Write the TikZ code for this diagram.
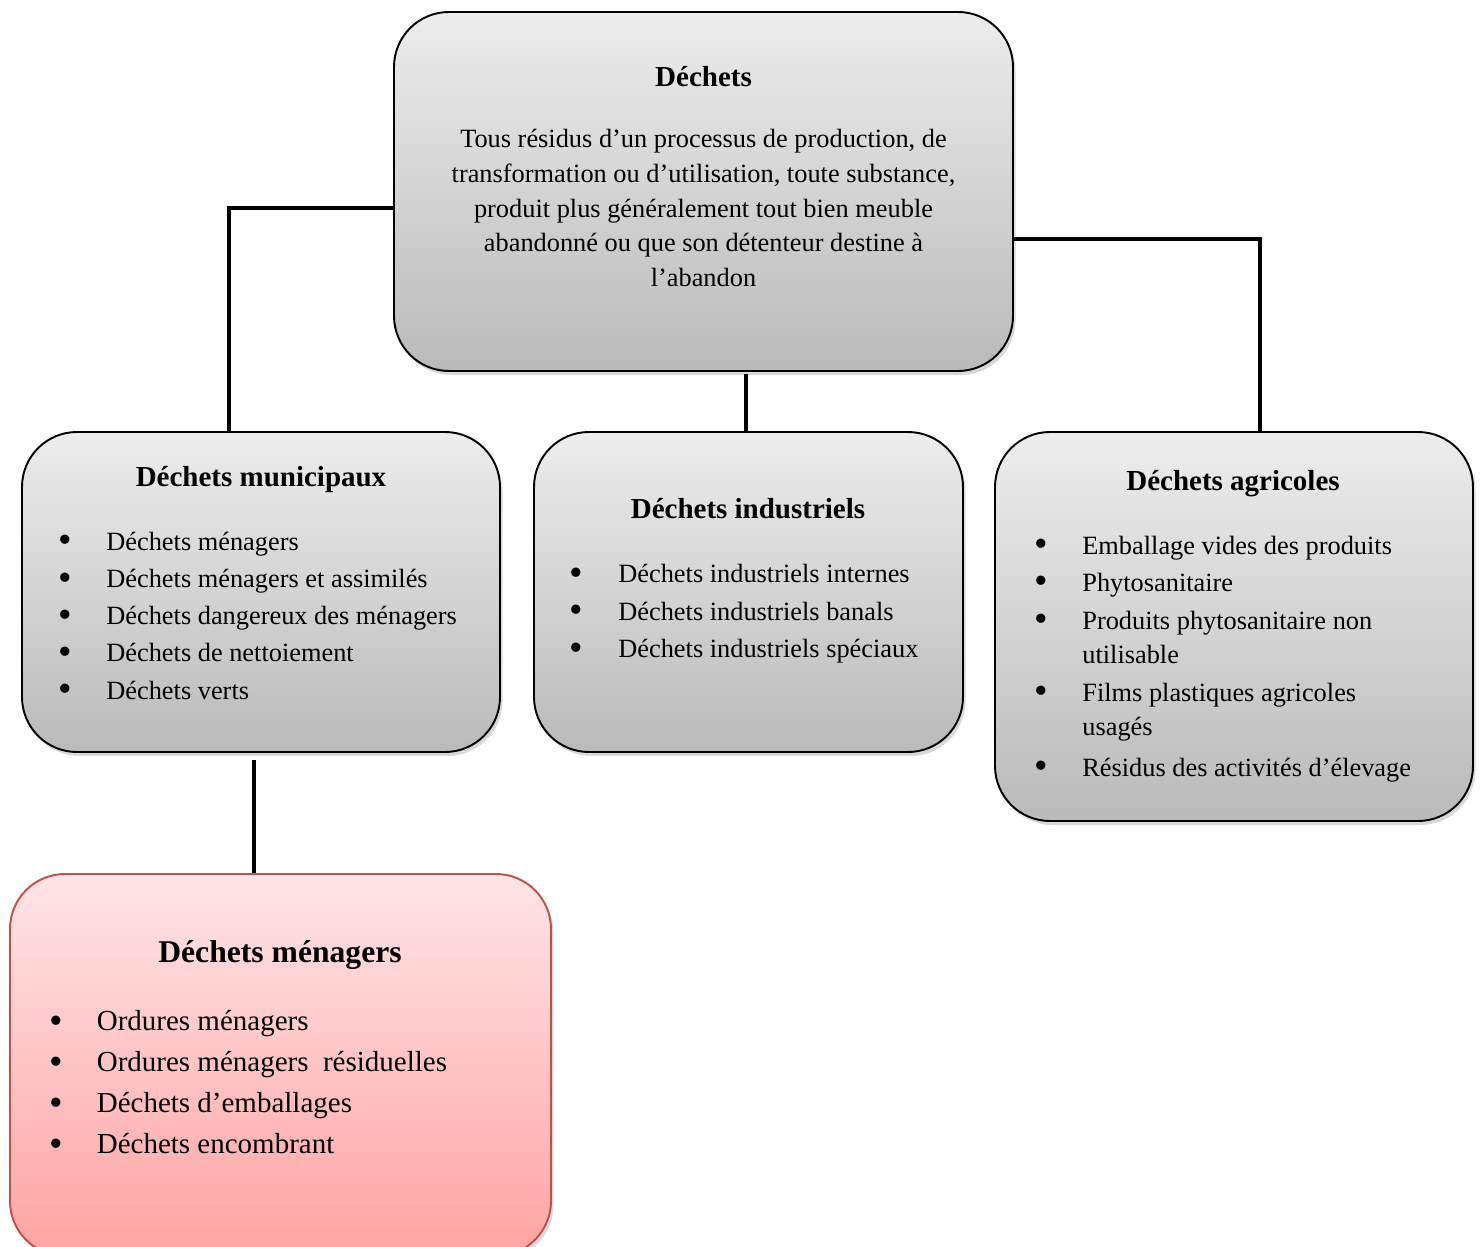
\documentclass[tikz,border=0pt]{standalone}
\usepackage{fontspec}
\setmainfont{Liberation Serif}
\usetikzlibrary{shadows,positioning}
\definecolor{grisHaut}{RGB}{237,237,237}
\definecolor{grisBas}{RGB}{186,186,186}
\definecolor{roseHaut}{RGB}{255,229,231}
\definecolor{roseBas}{RGB}{255,163,163}
\definecolor{rougeBord}{RGB}{192,80,77}
% puce + texte (largeur de la colonne puce, texte)
\newcommand{\pucetexte}[2]{\makebox[#1][l]{\raisebox{-1.6pt}{\fontsize{22}{22}\selectfont\textbullet}}\parbox[t]{8cm}{#2}}
\begin{document}
\begin{tikzpicture}[
  boite/.style={draw=black, line width=1.1pt, rounded corners=1.1cm, inner sep=0pt,
    top color=grisHaut, bottom color=grisBas,
    drop shadow={opacity=0.3, shadow xshift=0.05cm, shadow yshift=-0.08cm}},
  boiterose/.style={boite, draw=rougeBord, top color=roseHaut, bottom color=roseBas},
  titre/.style={font=\fontsize{16.5}{20}\selectfont\bfseries, anchor=base, inner sep=0pt},
  puce/.style={font=\fontsize{15}{19.8}\selectfont, anchor=base west, inner sep=0pt},
  lien/.style={line width=2.3pt, line join=miter}]
%
\useasboundingbox (0,0) rectangle (29.64,-24.94);
%
% boites
\node[boite, minimum width=12.38cm, minimum height=7.18cm] (haut) at (14.07,-3.83) {};
\node[boite, minimum width=9.56cm, minimum height=6.4cm] (muni) at (5.22,-11.84) {};
\node[boite, minimum width=8.58cm, minimum height=6.4cm] (indu) at (14.97,-11.84) {};
\node[boite, minimum width=9.56cm, minimum height=7.78cm] (agri) at (24.68,-12.53) {};
\node[boiterose, minimum width=10.82cm, minimum height=7.64cm] (mena) at (5.61,-21.30) {};
%
% Dechets
\node[titre] (hautT) at (14.07,-1.72) {Déchets};
\node[puce, anchor=base] (hautP) at (14.07,-2.95) {\parbox[t]{11.5cm}{\centering
  Tous résidus d’un processus de production, de\\
  transformation ou d’utilisation, toute substance,\\
  produit plus généralement tout bien meuble\\
  abandonné ou que son détenteur destine à\\
  l’abandon}};
%
% Dechets municipaux
\node[titre] (muniT) at (5.22,-9.72) {Déchets municipaux};
\foreach \txt [count=\i] in {Déchets ménagers, Déchets ménagers et assimilés,
    Déchets dangereux des ménagers, Déchets de nettoiement, Déchets verts}
  \node[puce] (muni-\i) at (1.17,{-11.0-(\i-1)*0.745}) {\pucetexte{0.95cm}{\txt}};
%
% Dechets industriels
\node[titre] (induT) at (14.96,-10.36) {Déchets industriels};
\foreach \txt [count=\i] in {Déchets industriels internes, Déchets industriels banals,
    Déchets industriels spéciaux}
  \node[puce] (indu-\i) at (11.39,{-11.65-(\i-1)*0.75}) {\pucetexte{0.97cm}{\txt}};
%
% Dechets agricoles
\node[titre] (agriT) at (24.66,-9.80) {Déchets agricoles};
\foreach \y/\txt [count=\i] in {-11.08/Emballage vides des produits, -11.82/Phytosanitaire,
    -12.58/{Produits phytosanitaire non\\utilisable}, -14.02/{Films plastiques agricoles\\usagés},
    -15.52/Résidus des activités d’élevage}
  \node[puce] (agri-\i) at (20.69,\y) {\pucetexte{0.95cm}{\txt}};
%
% Dechets menagers
\node[titre, font=\fontsize{18}{22}\selectfont\bfseries] (menaT) at (5.6,-19.25) {Déchets ménagers};
\foreach \txt [count=\i] in {Ordures ménagers, Ordures ménagers~ résiduelles,
    Déchets d’emballages, Déchets encombrant}
  \node[puce, font=\fontsize{16.5}{21}\selectfont] (mena-\i) at (0.99,{-20.61-(\i-1)*0.82}) {\pucetexte{0.94cm}{\txt}};
%
% liens
\coordinate (coudeG) at (4.58,-4.16);
\coordinate (coudeD) at (25.2,-4.78);
\coordinate (milieu) at (14.92,-7.48);
\coordinate (bas) at (5.08,-15.2);
\draw[lien] (haut.west |- coudeG) -- (coudeG) -- (muni.north -| coudeG);
\draw[lien] (haut.east |- coudeD) -- (coudeD) -- (agri.north -| coudeD);
\draw[lien] (milieu) -- (indu.north -| milieu);
\draw[lien] (bas) -- (mena.north -| bas);
%
\end{tikzpicture}
\end{document}
